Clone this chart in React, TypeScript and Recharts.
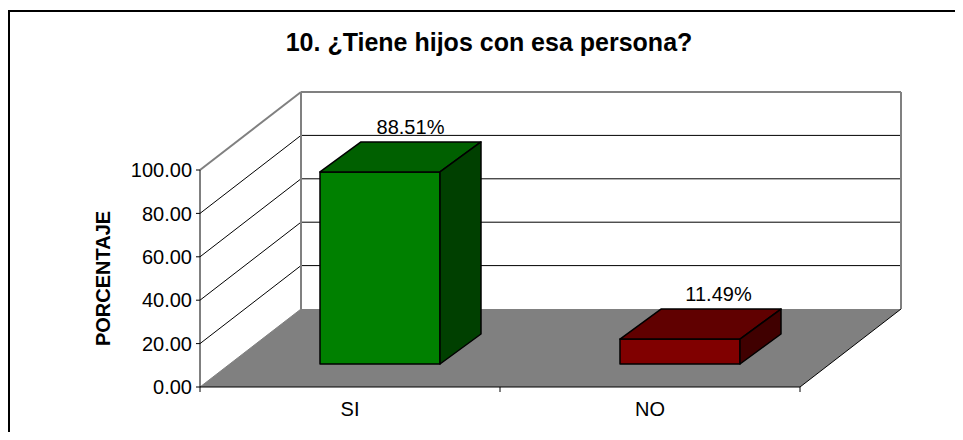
import React from 'react';
import { BarChart, Bar, XAxis, YAxis, CartesianGrid, LabelList } from 'recharts';

const categories = ['SI', 'NO'];
const percentages = [88.51, 11.49];
const valueTicks = [0, 20, 40, 60, 80, 100];

const chartData = categories.map((name, i) => ({ name, value: percentages[i] }));

const FONT = '"Liberation Sans", Arial, sans-serif';

// 3D look: how far the back wall and the bars sit from the front plane
const WALL_DX = 101;
const WALL_DY = -78;
const BAR_SHIFT_X = 30;
const BAR_SHIFT_Y = -23;
const BAR_DX = 41;
const BAR_DY = -30;
const LABEL_NUDGE = [10, 18];
const PLOT_HEIGHT = 217;

const palette = [
  { front: '#008000', top: '#006000', side: '#004000' },
  { front: '#800000', top: '#600000', side: '#400000' },
];

function WallLine(props: any) {
  const { x1, x2, y1, index } = props;
  const isFloor = index === 0;
  const isTop = index === valueTicks.length - 1;
  const bx1 = x1 + WALL_DX;
  const bx2 = x2 + WALL_DX;
  const by = y1 + WALL_DY;
  if (isFloor) {
    const mid = (x1 + x2) / 2;
    return (
      <g>
        <polygon
          points={`${x1},${y1} ${x2},${y1} ${bx2},${by} ${bx1},${by}`}
          fill="#808080"
        />
        <line x1={x2} y1={y1} x2={bx2} y2={by} stroke="#000" strokeWidth={1} />
        <line x1={x1} y1={y1} x2={bx1} y2={by} stroke="#808080" strokeWidth={1} />
        {/* category boundary ticks */}
        {[x1, mid, x2].map((tx) => (
          <line key={tx} x1={tx} y1={y1} x2={tx} y2={y1 + 5} stroke="#000" strokeWidth={1} />
        ))}
      </g>
    );
  }
  const stroke = isTop ? '#808080' : '#000';
  const strokeWidth = isTop ? 2 : 1;
  return (
    <g>
      <line x1={x1} y1={y1} x2={bx1} y2={by} stroke={stroke} strokeWidth={strokeWidth} />
      <line x1={bx1} y1={by} x2={bx2} y2={by} stroke={stroke} strokeWidth={strokeWidth} />
      {isTop && (
        <>
          <line x1={bx1} y1={by} x2={bx1} y2={by + PLOT_HEIGHT} stroke="#808080" strokeWidth={2} />
          <line x1={bx2} y1={by} x2={bx2} y2={by + PLOT_HEIGHT} stroke="#808080" strokeWidth={2} />
        </>
      )}
    </g>
  );
}

function Box3D(props: any) {
  const { x, y, width, height, index } = props;
  const c = palette[index];
  const l = x + BAR_SHIFT_X;
  const r = l + width;
  const t = y + BAR_SHIFT_Y;
  const b = t + height;
  return (
    <g stroke="#000" strokeWidth={1.5} strokeLinejoin="round">
      <rect x={l} y={t} width={width} height={height} fill={c.front} />
      <polygon
        points={`${l},${t} ${r},${t} ${r + BAR_DX},${t + BAR_DY} ${l + BAR_DX},${t + BAR_DY}`}
        fill={c.top}
      />
      <polygon
        points={`${r},${t} ${r + BAR_DX},${t + BAR_DY} ${r + BAR_DX},${b + BAR_DY} ${r},${b}`}
        fill={c.side}
      />
    </g>
  );
}

function BarValueLabel(props: any) {
  const { x, y, width, value, index } = props;
  return (
    <text
      x={x + width / 2 + BAR_SHIFT_X + BAR_DX / 2 + LABEL_NUDGE[index]}
      y={y + BAR_SHIFT_Y + BAR_DY - 8}
      textAnchor="middle"
      fontFamily={FONT}
      fontSize={20}
      fill="#000"
    >
      {value.toFixed(2)}%
    </text>
  );
}

export default function App() {
  return (
    <div style={{ position: 'relative', width: 947, height: 424, background: '#fff' }}>
      <div
        style={{
          position: 'absolute',
          left: 0,
          top: 2,
          width: 953,
          height: 428,
          borderLeft: '2px solid #000',
          borderTop: '2px solid #000',
        }}
      />
      <div
        style={{
          position: 'absolute',
          left: 0,
          top: 20,
          width: 962,
          textAlign: 'center',
          fontFamily: FONT,
          fontWeight: 'bold',
          fontSize: 25,
          lineHeight: '28px',
          color: '#000',
        }}
      >
        10. ¿Tiene hijos con esa persona?
      </div>
      <BarChart
        width={947}
        height={424}
        data={chartData}
        margin={{ top: 162, right: 155, bottom: 15, left: 0 }}
        style={{ position: 'absolute', left: 0, top: 0 }}
      >
        <CartesianGrid vertical={false} horizontal={(p: any) => <WallLine {...p} />} />
        <XAxis
          dataKey="name"
          height={30}
          axisLine={{ stroke: '#000', strokeWidth: 1 }}
          tickLine={false}
          tick={{ fontFamily: FONT, fontSize: 20, fill: '#000' }}
          tickMargin={9}
        />
        <YAxis
          width={192}
          domain={[0, 100]}
          ticks={valueTicks}
          interval={0}
          tickFormatter={(v: number) => v.toFixed(2)}
          axisLine={{ stroke: '#000', strokeWidth: 1 }}
          tickLine={{ stroke: '#000' }}
          tickSize={4}
          tickMargin={4}
          tick={{ fontFamily: FONT, fontSize: 20, fill: '#000' }}
          label={{
            value: 'PORCENTAJE',
            angle: -90,
            position: 'insideLeft',
            offset: 95,
            style: { fontFamily: FONT, fontWeight: 'bold', fontSize: 20, fill: '#000', textAnchor: 'middle' },
          }}
        />
        <Bar dataKey="value" barSize={120} isAnimationActive={false} shape={Box3D}>
          <LabelList dataKey="value" content={BarValueLabel} />
        </Bar>
      </BarChart>
    </div>
  );
}
